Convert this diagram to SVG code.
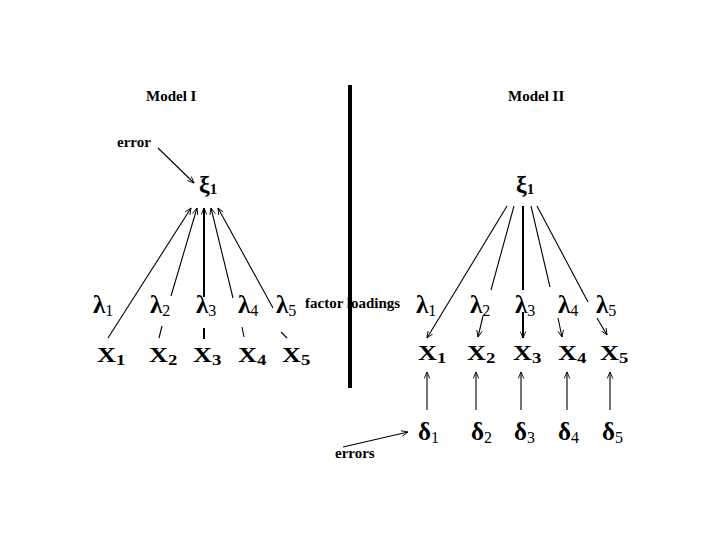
<svg xmlns="http://www.w3.org/2000/svg" width="720" height="540" viewBox="0 0 720 540">
<style>
.t{font-family:"Liberation Serif","Times New Roman",serif;font-weight:bold;fill:#000}
.lbl{font-size:15px}
.lam{font-size:25px}
.gx{font-size:24px}
.del{font-size:25px}
.xv{font-size:21px}
.sub{font-size:16px;font-weight:normal}
.subb{font-size:15px;font-weight:bold}
.ln{stroke:#000;stroke-width:1.1;fill:none}
.lnv{stroke:#000;stroke-width:2;fill:none}
</style>
<defs>
<marker id="ah" viewBox="0 0 8 8" refX="7.5" refY="4" markerWidth="7" markerHeight="7" markerUnits="userSpaceOnUse" orient="auto">
<path d="M0,0.8 L7.5,4 L0,7.2" fill="none" stroke="#000" stroke-width="1"/>
</marker>
</defs>
<rect width="720" height="540" fill="#fff"/>

<g id="titles">
<text class="t lbl" x="146" y="101">Model I</text>
<text class="t lbl" x="508" y="101">Model II</text>
<text class="t lbl" x="117" y="147">error</text>
<text class="t lbl" x="305" y="308">factor loadings</text>
<text class="t lbl" x="335" y="458">errors</text>
</g>

<g id="divider">
<line x1="350" y1="85" x2="350" y2="388" stroke="#000" stroke-width="4"/>
</g>

<g id="connectors">
<!-- Model I -->
<path class="ln" d="M158,148 L194,183" marker-end="url(#ah)"/>
<path class="ln" d="M108,338 L191,208" marker-end="url(#ah)"/>
<path class="ln" d="M159,338 L162,326 M171,296 L197,208" marker-end="url(#ah)"/>
<path class="lnv" d="M204,339 L204,328 M204,297 L204,208" marker-end="url(#ah)"/>
<path class="ln" d="M244,337 L242,327 M233,298 L211,208" marker-end="url(#ah)"/>
<path class="ln" d="M287,338 L281,332 M273,308 L218,208" marker-end="url(#ah)"/>
<!-- Model II -->
<path class="ln" d="M507,206 L427,338" marker-end="url(#ah)"/>
<path class="ln" d="M514,206 L491,290 M483,316 L478,337" marker-end="url(#ah)"/>
<path class="lnv" d="M523,206 L523,290 M523,312 L523,338" marker-end="url(#ah)"/>
<path class="ln" d="M531,206 L550,287 M558,318 L562,337" marker-end="url(#ah)"/>
<path class="ln" d="M537,206 L588,302 M597,318 L607,335" marker-end="url(#ah)"/>
<path class="ln" d="M427,410 L427,372" marker-end="url(#ah)"/>
<path class="ln" d="M476,410 L476,372" marker-end="url(#ah)"/>
<path class="ln" d="M521,410 L521,372" marker-end="url(#ah)"/>
<path class="ln" d="M567,410 L567,372" marker-end="url(#ah)"/>
<path class="ln" d="M610,410 L610,372" marker-end="url(#ah)"/>
<path class="ln" d="M343,447 L408,432" marker-end="url(#ah)"/>
</g>

<g id="loadings">
<text class="t lam" x="93" y="313">λ<tspan class="sub" dy="3">1</tspan></text>
<text class="t lam" x="150" y="313">λ<tspan class="sub" dy="3">2</tspan></text>
<text class="t lam" x="196" y="313">λ<tspan class="sub" dy="3">3</tspan></text>
<text class="t lam" x="238" y="313">λ<tspan class="sub" dy="3">4</tspan></text>
<text class="t lam" x="276" y="313">λ<tspan class="sub" dy="3">5</tspan></text>
<text class="t lam" x="416" y="313">λ<tspan class="sub" dy="3">1</tspan></text>
<text class="t lam" x="470" y="313">λ<tspan class="sub" dy="3">2</tspan></text>
<text class="t lam" x="515" y="313">λ<tspan class="sub" dy="3">3</tspan></text>
<text class="t lam" x="558" y="313">λ<tspan class="sub" dy="3">4</tspan></text>
<text class="t lam" x="596" y="313">λ<tspan class="sub" dy="3">5</tspan></text>
</g>

<g id="xi1-left"><text class="t gx" x="199" y="192">ξ<tspan class="subb" dy="2">1</tspan></text></g>
<g id="xi1-right"><text class="t gx" x="516" y="192">ξ<tspan class="subb" dy="2">1</tspan></text></g>

<g id="m1-x1"><text class="t xv" transform="translate(97,362) scale(1.25,1)">X<tspan class="subb" dy="3">1</tspan></text></g>
<g id="m1-x2"><text class="t xv" transform="translate(149,362) scale(1.25,1)">X<tspan class="subb" dy="3">2</tspan></text></g>
<g id="m1-x3"><text class="t xv" transform="translate(193,362) scale(1.25,1)">X<tspan class="subb" dy="3">3</tspan></text></g>
<g id="m1-x4"><text class="t xv" transform="translate(238,362) scale(1.25,1)">X<tspan class="subb" dy="3">4</tspan></text></g>
<g id="m1-x5"><text class="t xv" transform="translate(282,362) scale(1.25,1)">X<tspan class="subb" dy="3">5</tspan></text></g>

<g id="m2-x1"><text class="t xv" transform="translate(418,360) scale(1.25,1)">X<tspan class="subb" dy="3">1</tspan></text></g>
<g id="m2-x2"><text class="t xv" transform="translate(467,360) scale(1.25,1)">X<tspan class="subb" dy="3">2</tspan></text></g>
<g id="m2-x3"><text class="t xv" transform="translate(513,360) scale(1.25,1)">X<tspan class="subb" dy="3">3</tspan></text></g>
<g id="m2-x4"><text class="t xv" transform="translate(558,360) scale(1.25,1)">X<tspan class="subb" dy="3">4</tspan></text></g>
<g id="m2-x5"><text class="t xv" transform="translate(600,360) scale(1.25,1)">X<tspan class="subb" dy="3">5</tspan></text></g>

<g id="d1"><text class="t del" x="418" y="440">δ<tspan class="sub" dy="3">1</tspan></text></g>
<g id="d2"><text class="t del" x="471" y="440">δ<tspan class="sub" dy="3">2</tspan></text></g>
<g id="d3"><text class="t del" x="514" y="440">δ<tspan class="sub" dy="3">3</tspan></text></g>
<g id="d4"><text class="t del" x="558" y="440">δ<tspan class="sub" dy="3">4</tspan></text></g>
<g id="d5"><text class="t del" x="602" y="440">δ<tspan class="sub" dy="3">5</tspan></text></g>
</svg>
